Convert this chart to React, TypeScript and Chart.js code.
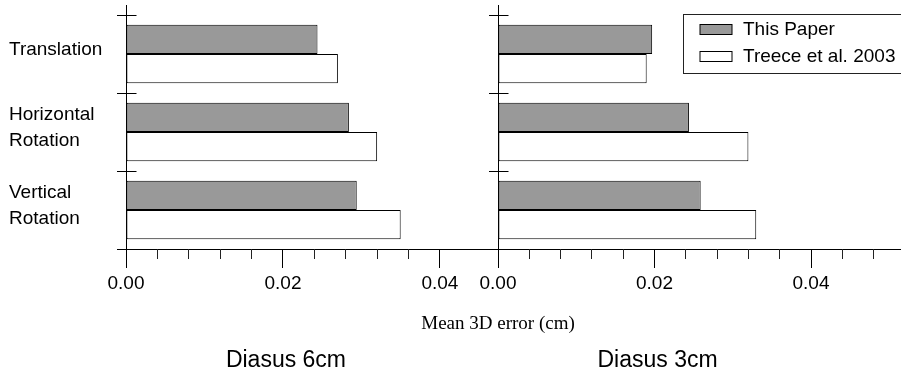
import React, { useEffect, useRef } from 'react';
import { Chart, registerables } from 'chart.js';

Chart.register(...registerables);

// ---- data ----
const categories: (string | string[])[] = ['Translation', ['Horizontal', 'Rotation'], ['Vertical', 'Rotation']];
const seriesNames = ['This Paper', 'Treece et al. 2003'];
const diasus6ThisPaper = [0.0244, 0.0284, 0.0294];
const diasus6Treece = [0.027, 0.032, 0.035];
const diasus3ThisPaper = [0.0197, 0.0244, 0.0259];
const diasus3Treece = [0.019, 0.032, 0.033];
const panelTitles = ['Diasus 6cm', 'Diasus 3cm'];
const xAxisTitle = 'Mean 3D error (cm)';
const majorTickStep = 0.02;
const minorTickStep = 0.004;

const SANS = '"Liberation Sans", Arial, sans-serif';
const SERIF = '"Liberation Serif", "Times New Roman", serif';
const GRAY = '#999999';

type Panel = {
  title: string;
  thisPaper: number[];
  treece: number[];
  xMax: number;
  minorLimit: number;
  padding: { left: number; top: number; right: number; bottom: number };
  yWidth: number;
  showYLabels: boolean;
  legend: boolean;
  axisTitle: boolean;
};

const panels: Panel[] = [
  {
    title: panelTitles[0],
    thisPaper: diasus6ThisPaper,
    treece: diasus6Treece,
    xMax: 0.0474,
    minorLimit: 0.04,
    padding: { left: 9, top: 15, right: 403, bottom: 0 },
    yWidth: 117,
    showYLabels: true,
    legend: false,
    axisTitle: false,
  },
  {
    title: panelTitles[1],
    thisPaper: diasus3ThisPaper,
    treece: diasus3Treece,
    xMax: 0.0515,
    minorLimit: 0.0515,
    padding: { left: 480, top: 15, right: 0, bottom: 0 },
    yWidth: 18,
    showYLabels: false,
    legend: true,
    axisTitle: true,
  },
];

const align = (p: number) => Math.round(p - 0.5) + 0.5;

function makePlugin(panel: Panel) {
  return {
    id: 'panelDecor',
    afterDraw(chart: any) {
      const ctx = chart.ctx as CanvasRenderingContext2D;
      const xs = chart.scales.x;
      const ys = chart.scales.y;
      const area = chart.chartArea;
      const axisX = align(area.left);
      ctx.save();
      ctx.lineWidth = 1;
      // minor x ticks
      ctx.strokeStyle = '#222';
      ctx.beginPath();
      for (let k = 1; k * minorTickStep <= panel.minorLimit + 1e-9; k++) {
        const v = k * minorTickStep;
        const r = v / majorTickStep;
        if (Math.abs(r - Math.round(r)) < 1e-6) continue;
        const px = align(xs.getPixelForValue(v));
        ctx.moveTo(px, area.bottom);
        ctx.lineTo(px, area.bottom + 10);
      }
      ctx.stroke();
      // category separator ticks on y-axis
      ctx.strokeStyle = '#000';
      const n = categories.length;
      const size = (ys.bottom - ys.top) / n;
      ctx.beginPath();
      for (let k = 0; k <= n; k++) {
        const py = align(ys.top + k * size);
        ctx.moveTo(axisX - 9.5, py);
        ctx.lineTo(axisX + 10, py);
      }
      // y-axis top extension
      ctx.moveTo(axisX, 5);
      ctx.lineTo(axisX, area.top);
      ctx.stroke();

      // panel title
      ctx.fillStyle = '#000';
      ctx.font = `23px ${SANS}`;
      ctx.textAlign = 'center';
      ctx.textBaseline = 'alphabetic';
      ctx.fillText(panel.title, xs.getPixelForValue(majorTickStep) + 3, 366.5);

      if (panel.axisTitle) {
        ctx.font = `19px ${SERIF}`;
        ctx.fillText(xAxisTitle, area.left, 328.5);
      }

      if (panel.legend) {
        const ds = chart.data.datasets;
        const boxLeft = 683.5;
        ctx.strokeStyle = '#222';
        ctx.strokeRect(boxLeft, 14.5, 400, 59);
        ctx.font = `19px ${SANS}`;
        ctx.textAlign = 'left';
        ds.forEach((d: any, i: number) => {
          const sy = Math.round(24 + i * 26.7) + 0.5;
          ctx.fillStyle = d.backgroundColor;
          ctx.fillRect(boxLeft + 16.5, sy, 32, 10);
          ctx.strokeStyle = '#000';
          ctx.strokeRect(boxLeft + 16.5, sy, 32, 10);
          ctx.fillStyle = '#000';
          ctx.fillText(d.label, boxLeft + 59.5, 35 + i * 26.7);
        });
      }
      ctx.restore();
    },
  };
}

function makeConfig(panel: Panel): any {
  return {
    type: 'bar',
    data: {
      labels: categories,
      datasets: [
        {
          label: seriesNames[0],
          data: panel.thisPaper,
          backgroundColor: GRAY,
          borderColor: '#000',
          borderWidth: 1,
          borderSkipped: false,
          categoryPercentage: 0.75,
          barPercentage: 1,
        },
        {
          label: seriesNames[1],
          data: panel.treece,
          backgroundColor: '#ffffff',
          borderColor: '#000',
          borderWidth: 1,
          borderSkipped: false,
          categoryPercentage: 0.75,
          barPercentage: 1,
        },
      ],
    },
    options: {
      indexAxis: 'y',
      responsive: false,
      animation: false,
      devicePixelRatio: 1,
      layout: { padding: panel.padding },
      plugins: {
        legend: { display: false },
        title: { display: false },
        tooltip: { enabled: false },
      },
      scales: {
        y: {
          type: 'category',
          offset: true,
          grid: { display: false },
          border: { display: true, color: '#000', width: 1 },
          ticks: {
            display: panel.showYLabels,
            color: '#000',
            font: { family: SANS, size: 19, lineHeight: 1.38 },
            crossAlign: 'far',
            labelOffset: -4,
            padding: 0,
          },
          afterFit: (s: any) => {
            s.width = panel.yWidth;
            s.paddingTop = 0;
            s.paddingBottom = 0;
          },
        },
        x: {
          type: 'linear',
          min: 0,
          max: panel.xMax,
          grid: {
            display: true,
            drawOnChartArea: false,
            drawTicks: true,
            tickLength: 19,
            tickColor: '#000',
            color: '#000',
          },
          border: { display: true, color: '#000', width: 1 },
          ticks: {
            stepSize: majorTickStep,
            includeBounds: false,
            autoSkip: false,
            maxRotation: 0,
            color: '#000',
            padding: 4.5,
            font: { family: SANS, size: 19, lineHeight: 1.2 },
            callback: (v: any) => Number(v).toFixed(2),
          },
          afterFit: (s: any) => {
            s.height = 122;
            s.paddingLeft = 0;
            s.paddingRight = 0;
          },
        },
      },
    },
    plugins: [makePlugin(panel)],
  };
}

export default function App() {
  const leftRef = useRef<HTMLCanvasElement>(null);
  const rightRef = useRef<HTMLCanvasElement>(null);

  useEffect(() => {
    const charts = [
      new Chart(leftRef.current as HTMLCanvasElement, makeConfig(panels[0])),
      new Chart(rightRef.current as HTMLCanvasElement, makeConfig(panels[1])),
    ];
    return () => charts.forEach((c) => c.destroy());
  }, []);

  return (
    <div style={{ position: 'absolute', left: 0, top: 0, width: 901, height: 371, background: '#fff', overflow: 'hidden' }}>
      <canvas ref={leftRef} width={901} height={371} style={{ position: 'absolute', left: 0, top: 0 }} />
      <canvas ref={rightRef} width={901} height={371} style={{ position: 'absolute', left: 0, top: 0 }} />
    </div>
  );
}
